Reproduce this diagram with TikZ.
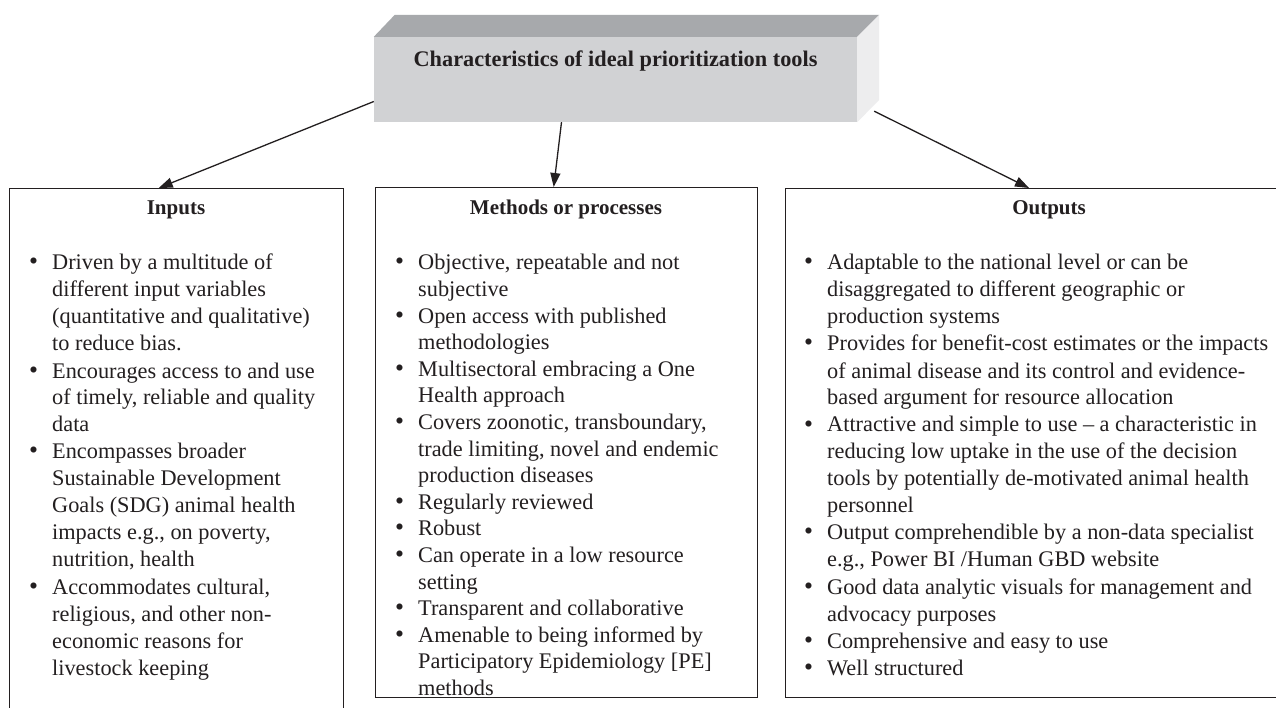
\documentclass[tikz,border=0pt]{standalone}
\usepackage{fontspec}
\setmainfont{Liberation Serif}
\usetikzlibrary{arrows.meta,calc}
\definecolor{txt}{HTML}{231F20}
\definecolor{frontc}{HTML}{D1D2D4}
\definecolor{topc}{HTML}{A7A9AC}
\definecolor{sidec}{HTML}{EDEDEE}
\newcommand{\bul}{\scalebox{1.15}{\textbullet}}
\tikzset{
  panel/.style={draw=txt, line width=1.4pt, anchor=north west, inner sep=0pt},
  head/.style={font=\fontsize{21}{26}\selectfont\bfseries, text=txt, anchor=base, inner sep=0pt},
  body/.style={font=\fontsize{22.3}{27}\selectfont, text=txt, anchor=base west, inner sep=0pt, align=left},
  tightbody/.style={body, font=\fontsize{22.3}{26.6}\selectfont},
  arr/.style={draw=txt, line width=1.3pt, -{Triangle[length=14pt,width=10pt]}}
}
\begin{document}
\begin{tikzpicture}[x=1pt,y=-1pt]
\useasboundingbox (0,0) rectangle (1276,708);
\fill[white] (0,0) rectangle (1276,708);
\clip (0,0) rectangle (1276,708);
% 3D title box
\node[fill=frontc, minimum width=483, minimum height=85, inner sep=0pt] (face) at (615.5,79.5) {};
\fill[topc] (face.north west) -- ++(21,-22) -- ($(face.north east)+(22,-22)$) -- (face.north east) -- cycle;
\fill[sidec] (face.north east) -- ++(22,-22) -- ++(0,85) -- (face.south east) -- cycle;
\node[font=\fontsize{22.3}{26}\selectfont\bfseries, text=txt, anchor=base, inner sep=0pt] (title) at (615.5,67) {Characteristics of ideal prioritization tools};
% panels
\node[panel, minimum width=334, minimum height=560] (inputs) at (9,188) {};
\node[panel, minimum width=382, minimum height=510] (methods) at (375,187) {};
\node[panel, minimum width=530, minimum height=509] (outputs) at (785,188) {};
% headings
\node[head] (hin) at (176,215) {Inputs};
\node[head] (hme) at (566,215) {Methods or processes};
\node[head] (hout) at (1049,215) {Outputs};
% arrows
\draw[arr] ($(face.west)+(0,22)$) -- ($(inputs.north)+(-18,0)$);
\draw[arr] ($(face.south)+(-54,0)$) -- ($(methods.north)+(-13,0)$);
\draw[arr] ($(face.south east)+(17,-11)$) -- ($(outputs.north west)+(244,0)$);
% lists
\node[body] (lin) at (29,270) {\begin{tabular}[t]{@{}p{23pt}@{}l@{}}
\bul & Driven by a multitude of\\
 & different input variables\\
 & (quantitative and qualitative)\\
 & to reduce bias.\\
\bul & Encourages access to and use\\
 & of timely, reliable and quality\\
 & data\\
\bul & Encompasses broader\\
 & Sustainable Development\\
 & Goals (SDG) animal health\\
 & impacts e.g., on poverty,\\
 & nutrition, health\\
\bul & Accommodates cultural,\\
 & religious, and other non-\\
 & economic reasons for\\
 & livestock keeping
\end{tabular}};
\node[tightbody] (lme) at (395,270) {\begin{tabular}[t]{@{}p{23pt}@{}l@{}}
\bul & Objective, repeatable and not\\
 & subjective\\
\bul & Open access with published\\
 & methodologies\\
\bul & Multisectoral embracing a One\\
 & Health approach\\
\bul & Covers zoonotic, transboundary,\\
 & trade limiting, novel and endemic\\
 & production diseases\\
\bul & Regularly reviewed\\
\bul & Robust\\
\bul & Can operate in a low resource\\
 & setting\\
\bul & Transparent and collaborative\\
\bul & Amenable to being informed by\\
 & Participatory Epidemiology [PE]\\
 & methods
\end{tabular}};
\node[body] (lout) at (804,270) {\begin{tabular}[t]{@{}p{23pt}@{}l@{}}
\bul & Adaptable to the national level or can be\\
 & disaggregated to different geographic or\\
 & production systems\\
\bul & Provides for benefit-cost estimates or the impacts\\
 & of animal disease and its control and evidence-\\
 & based argument for resource allocation\\
\bul & Attractive and simple to use -- a characteristic in\\
 & reducing low uptake in the use of the decision\\
 & tools by potentially de-motivated animal health\\
 & personnel\\
\bul & Output comprehendible by a non-data specialist\\
 & e.g., Power BI /Human GBD website\\
\bul & Good data analytic visuals for management and\\
 & advocacy purposes\\
\bul & Comprehensive and easy to use\\
\bul & Well structured
\end{tabular}};
\end{tikzpicture}
\end{document}
